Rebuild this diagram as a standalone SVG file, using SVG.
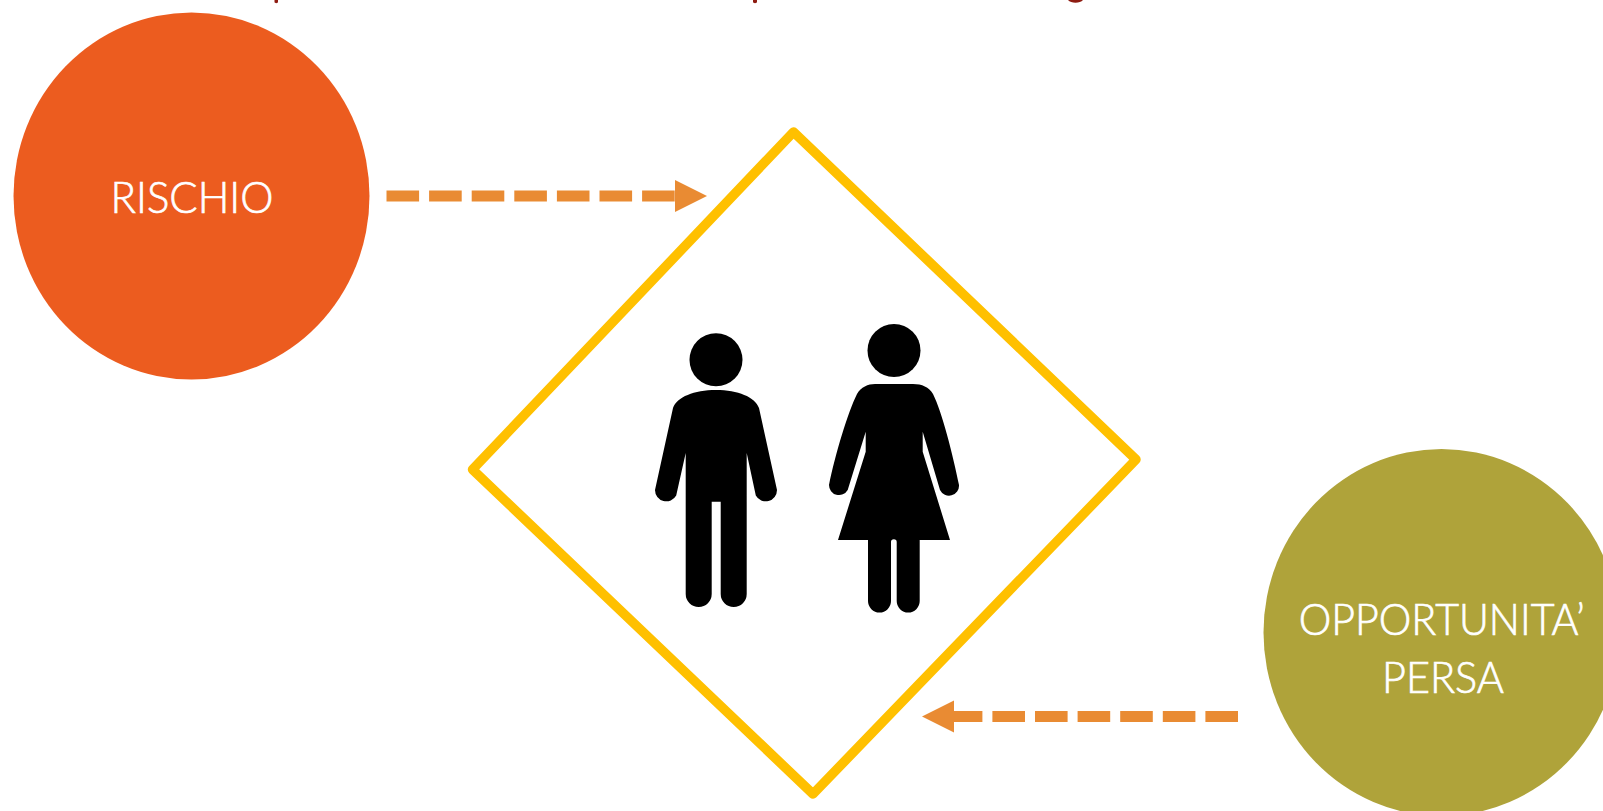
<svg xmlns="http://www.w3.org/2000/svg" width="1603" height="811" viewBox="0 0 1603 811">
<style>
.label{font-family:"Lato","Liberation Sans",sans-serif;font-weight:300;font-size:44px;fill:#fff;stroke:#fff;stroke-width:.7;text-anchor:middle}
.conn{stroke:#E98B33;stroke-width:11;stroke-dasharray:32.6 10;fill:none}
.mark{fill:#8E1C12}
</style>
<defs>
<marker id="head" markerUnits="userSpaceOnUse" markerWidth="32" markerHeight="32" refX="0" refY="16" orient="auto" overflow="visible">
<path d="M0 0L32 16L0 32Z" fill="#E98B33"/>
</marker>
</defs>
<rect width="1603" height="811" fill="#fff"/>
<path class="mark" d="M274.500 0h3.500v2c0 1.500-3.500 1.500-3.500 0Z"/>
<path class="mark" d="M753 0h4v2c0 1.500-4 1.500-4 0Z"/>
<path class="mark" d="M1068 0c3 3.500 12 3.500 15 0Z"/>
<g id="rischio">
<ellipse cx="191.500" cy="196" rx="178" ry="183.500" fill="#EC5C1F"/>
<text class="label" x="192" y="213" textLength="163" lengthAdjust="spacingAndGlyphs">RISCHIO</text>
</g>
<g id="opportunita">
<ellipse cx="1441.500" cy="632.500" rx="178" ry="183.500" fill="#AFA33A"/>
<text class="label" x="1441.700" y="635" textLength="286" lengthAdjust="spacingAndGlyphs">OPPORTUNITA’</text>
<text class="label" x="1443" y="693.300" textLength="122" lengthAdjust="spacingAndGlyphs">PERSA</text>
</g>
<g id="persone">
<path d="M793.500 132L1136 459.500L813 794L472.500 469.500Z" fill="#fff" stroke="#FFC000" stroke-width="9.500" stroke-linejoin="round"/>
<g id="uomo">
<circle cx="716" cy="359.800" r="26.500"/>
<path d="M716 390C738 390 755 397 759 408L777 490A11.300 11.300 0 0 1 755.800 495.500L746.700 453V594A13 13 0 0 1 720.700 594V501.700H711.700V594A13 13 0 0 1 685.700 594V453L676.200 495.500A11.300 11.300 0 0 1 655 490L673 408C677 397 694 390 716 390Z"/>
</g>
<g id="donna">
<circle cx="894" cy="350.500" r="26.500"/>
<path d="M875 384H913C922 384 929 387 933 394C942 412 953 455 959 485A10 10 0 0 1 940 490L922.700 431.700V451.700L950 540H919.700V601A11.500 11.500 0 0 1 896.700 601V542A2.800 2.800 0 0 0 891 542V601A11.500 11.500 0 0 1 868 601V540H838L865.700 451.700V431.700L847.700 490A10 10 0 0 1 829 485C835 455 848 412 857 394C861 387 868 384 875 384Z"/>
</g>
</g>
<g id="connectors">
<line class="conn" x1="386.500" y1="196" x2="675" y2="196" marker-end="url(#head)"/>
<line class="conn" x1="1238" y1="716.500" x2="954" y2="716.500" marker-end="url(#head)"/>
</g>
</svg>
